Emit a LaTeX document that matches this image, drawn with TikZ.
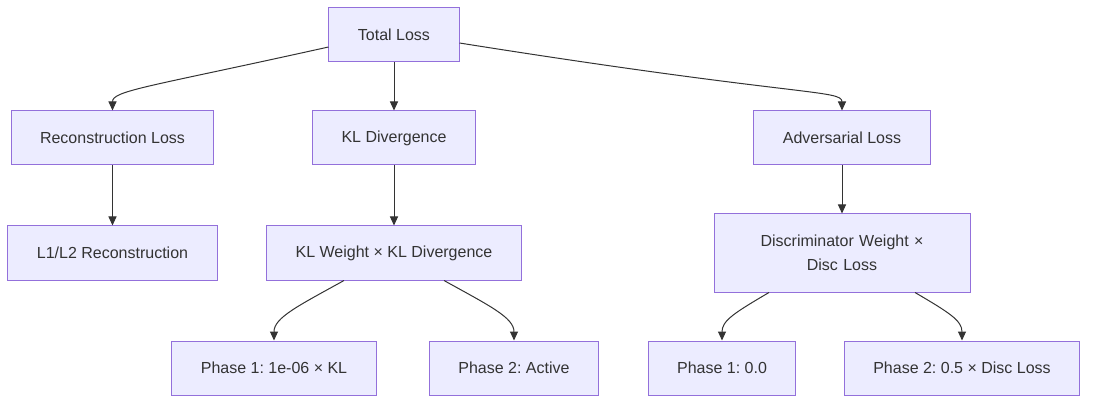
\documentclass[tikz,border=0pt]{standalone}
\usepackage{fontspec}
\setmainfont{Liberation Sans}
\frenchspacing
\usetikzlibrary{arrows.meta}
\definecolor{boxfill}{HTML}{ECECFF}
\definecolor{boxline}{HTML}{9370DB}
\definecolor{edgeline}{HTML}{333333}
\tikzset{
	box/.style={draw=boxline, fill=boxfill, line width=1pt, text=edgeline,
		font=\fontsize{16}{24}\selectfont, inner xsep=29pt, inner ysep=15pt,
		minimum height=54pt},
	straight child/.style={edge from parent path={(\tikzparentnode) -- (\tikzchildnode)}},
	bend child/.style n args={4}{edge from parent path={([#1]\tikzparentnode.#2)
		.. controls +(#3) and +(#4) .. (\tikzchildnode.north)}}
}
\begin{document}
\begin{tikzpicture}
			[x=1pt, y=1pt, every node/.style=box,
			edge from parent/.style={draw=edgeline, line width=1pt,
				-{Triangle[length=9pt,width=8pt]}},
			level 1/.style={level distance=103pt,
				sibling distance=281.5pt, straight child},
			level 2/.style={level distance=115pt, straight child},
			level 3/.style={level distance=115pt,
					sibling distance=240pt, straight child}]
			\useasboundingbox (-394,35) rectangle (703,-371);
			\node (total) {Total Loss}
			child[bend child={yshift=-12pt}{west}{-180pt,-40pt}{0,20pt}] {node (recon) {Reconstruction Loss}
				child {node (l1l2) {L1/L2 Reconstruction}}
			}
			child {node (kl) {KL Divergence}
				child {node (klweight) {KL Weight × KL Divergence}
					child[bend child={xshift=-50pt}{south}{-45pt,-25pt}{0,23pt}] {node (klphaseone) {Phase 1: 1e-06 × KL}}
					child[bend child={xshift=50pt}{south}{45pt,-25pt}{0,23pt}] {node (klphasetwo) {Phase 2: Active}}
				}
			}
			child[xshift=166.5pt, bend child={yshift=-8pt}{east}{340pt,-54pt}{0,21pt}] {node (adv) {Adversarial Loss}
				child {node (disc) [text width=198pt, align=center, minimum height=78pt] {Discriminator Weight ×\\ Disc Loss}
					child[bend child={xshift=-73pt}{south}{-34pt,-20pt}{0,20pt}] {node (discphaseone) {Phase 1: 0.0}}
					child[bend child={xshift=73pt}{south}{34pt,-20pt}{0,20pt}] {node (discphasetwo) {Phase 2: 0.5 × Disc Loss}}
				}
			}
			;
		\end{tikzpicture}
\end{document}
